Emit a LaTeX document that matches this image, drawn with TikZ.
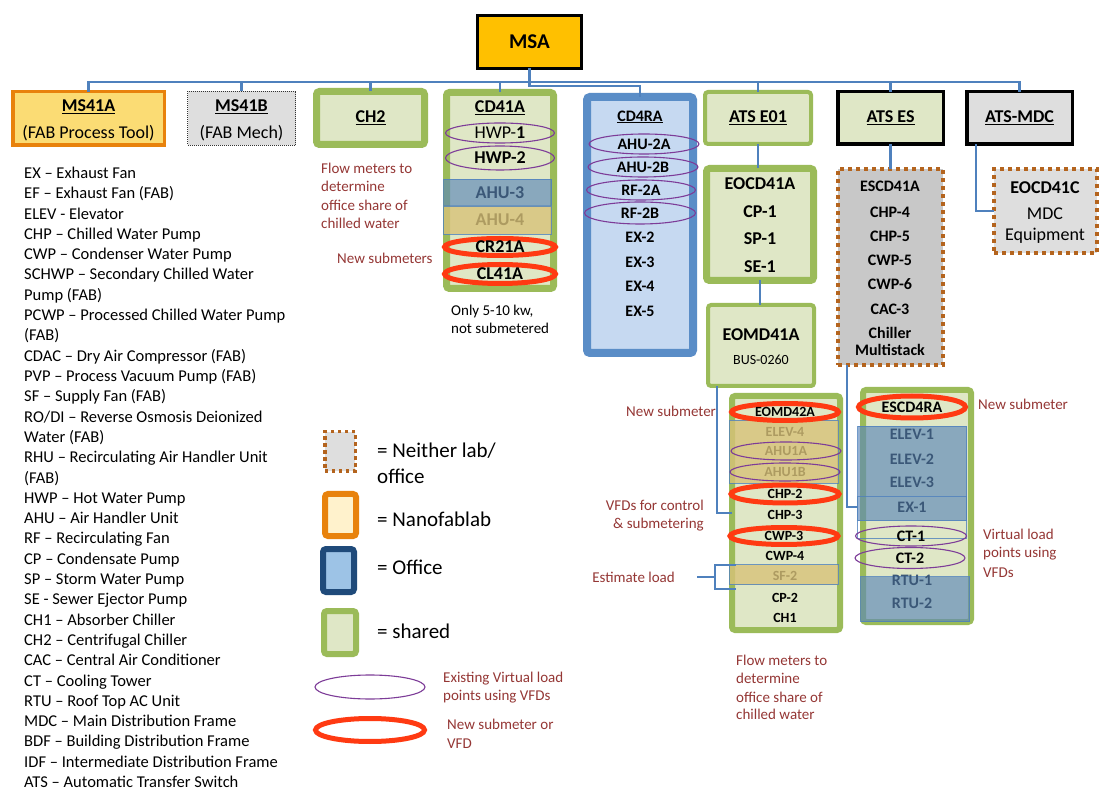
\documentclass[tikz,border=0pt]{standalone}
\usepackage{fontspec}
\setmainfont{Carlito}
\usetikzlibrary{shapes.geometric}
\definecolor{busblue}{HTML}{4F81BD}
\definecolor{gborder}{HTML}{9BBB59}
\definecolor{gfill}{HTML}{DFE7C6}
\definecolor{oborder}{HTML}{5A8DC7}
\definecolor{ofill}{HTML}{C6D9F1}
\definecolor{orng}{HTML}{E8820C}
\definecolor{msfill}{HTML}{FBDC74}
\definecolor{msagold}{HTML}{FFC000}
\definecolor{greyfill}{HTML}{DEDEDE}
\definecolor{greydark}{HTML}{C8C8C8}
\definecolor{dotbrown}{HTML}{B4641E}
\definecolor{dred}{HTML}{953735}
\definecolor{vpurple}{HTML}{7D3C98}
\definecolor{nred}{HTML}{FF3A12}
\definecolor{navy}{HTML}{1F4A7A}
\definecolor{lgoffice}{HTML}{9DC3E6}
\definecolor{lgnano}{HTML}{FFF2CC}
\definecolor{blueov}{HTML}{5B87B9}
\definecolor{bluetxt}{HTML}{3B5878}
\definecolor{tanov}{HTML}{D8C279}
\definecolor{tantxt}{HTML}{AD9B61}
\newcommand{\fsz}[1]{\fontsize{#1}{#1}\selectfont}
\begin{document}
\begin{tikzpicture}[x=1pt,y=-1pt,
  box/.style={inner sep=0pt, outer sep=0pt},
  gbox/.style={box, draw=gborder, fill=gfill, rounded corners=3pt, line width=#1},
  dotbox/.style={box, draw=dotbrown, line width=4pt, dash pattern=on 4pt off 4pt},
  blkbox/.style={box, draw=black, line width=3.5pt},
  ovblue/.style={box, fill=blueov, fill opacity=0.65, draw=busblue, draw opacity=0.8, line width=1pt},
  ovtan/.style={box, fill=tanov, fill opacity=0.8, draw=busblue, draw opacity=0.8, line width=1pt},
  lbl/.style={inner sep=0pt, font=\fsz{18}\bfseries},
  sub/.style={inner sep=0pt, font=\fsz{18}},
  mid/.style={inner sep=0pt, font=\fsz{16}\bfseries},
  sml/.style={inner sep=0pt, font=\fsz{14}\bfseries},
  note/.style={inner sep=0pt, anchor=base west, text=dred, font=\fsz{15}},
  noter/.style={inner sep=0pt, anchor=base east, text=dred, font=\fsz{15}},
  legtxt/.style={inner sep=0pt, anchor=base west, font=\fsz{21}},
  listtxt/.style={inner sep=0pt, anchor=base west, font=\fsz{16.5}},
  pell/.style={shape=ellipse, draw=vpurple, line width=1.1pt, inner sep=0pt},
  rell/.style={shape=ellipse, draw=nred, line width=5pt, inner sep=0pt},
  bus/.style={draw=busblue, line width=2.5pt}]
\useasboundingbox (0,0) rectangle (1101,791);
\fill[white] (0,0) rectangle (1101,791);

% ---------- top ----------
\node[box, draw=black, line width=3pt, fill=msagold, minimum width=104, minimum height=53, font=\fsz{21}\bfseries] (msa) at (529.5,42) {MSA};

\node[box, draw=orng, line width=3.5pt, fill=msfill, minimum width=151.5, minimum height=53.5] (ms41a) at (88.5,118.5) {};
\node[lbl] (ms41at) at (88.5,107) {\underline{MS41A}};
\node[sub] (ms41as) at (88.5,133) {(FAB Process Tool)};

\node[box, draw=black!80, line width=1pt, densely dotted, fill=greyfill, minimum width=108, minimum height=54] (ms41b) at (241.5,118.5) {};
\node[lbl] (ms41bt) at (241.5,107) {\underline{MS41B}};
\node[sub] (ms41bs) at (241.5,133) {(FAB Mech)};

\node[gbox=7pt, minimum width=108, minimum height=53, font=\fsz{18}\bfseries] (ch2) at (370.5,118) {\underline{CH2}};

% ---------- CD41A ----------
\node[gbox=7pt, minimum width=107, minimum height=196] (cd41a) at (500,190.5) {};
\node[lbl] (cd41at) at (500,108) {\underline{CD41A}};
\node[pell, minimum width=109, minimum height=20, font=\fsz{18}] (hwp1) at (500,133) {HWP-\textbf{1}};
\node[pell, minimum width=109, minimum height=24, font=\fsz{18}\bfseries] (hwp2) at (500,158) {HWP-2};
\node[ovblue, minimum width=108, minimum height=26] (ahu3) at (497.5,192.5) {};
\node[lbl, text=bluetxt] (ahu3t) at (500,192.5) {AHU-3};
\node[ovtan, minimum width=108, minimum height=28] (ahu4) at (497.5,220.5) {};
\node[lbl, text=tantxt] (ahu4t) at (500,220) {AHU-4};
\node[rell, minimum width=111, minimum height=17, font=\fsz{18}\bfseries] (cr21a) at (500,247) {CR21A};
\node[rell, minimum width=111, minimum height=19, font=\fsz{18}\bfseries] (cl41a) at (500,274) {CL41A};

% ---------- CD4RA ----------
\node[box, draw=oborder, fill=ofill, line width=8pt, rounded corners=3pt, minimum width=106, minimum height=256] (cd4ra) at (640,225) {};
\node[mid] (cd4rat) at (640,117) {\underline{CD4RA}};
\node[pell, minimum width=110, minimum height=20, font=\fsz{16}\bfseries] (ahu2a) at (644,144) {AHU-2A};
\node[pell, minimum width=110, minimum height=20, font=\fsz{16}\bfseries] (ahu2b) at (643,167) {AHU-2B};
\node[pell, minimum width=109, minimum height=20, font=\fsz{16}\bfseries] (rf2a) at (641,190) {RF-2A};
\node[pell, minimum width=111, minimum height=22, font=\fsz{16}\bfseries] (rf2b) at (640,213) {RF-2B};
\node[mid] (ex2) at (640,237) {EX-2};
\node[mid] (ex3) at (640,262) {EX-3};
\node[mid] (ex4) at (640,286) {EX-4};
\node[mid] (ex5) at (640,311) {EX-5};

% ---------- ATS row ----------
\node[gbox=4pt, minimum width=106, minimum height=52, font=\fsz{18}\bfseries] (atse01) at (758,118) {\underline{ATS E01}};
\node[blkbox, fill=gfill, minimum width=105.5, minimum height=52.5, font=\fsz{18}\bfseries] (atses) at (890.5,118) {\underline{ATS ES}};
\node[blkbox, fill=greyfill, minimum width=105.5, minimum height=52.5, font=\fsz{18}\bfseries] (atsmdc) at (1019.5,118) {\underline{ATS-MDC}};

% ---------- EOCD41A / EOMD41A ----------
\node[gbox=7pt, minimum width=107, minimum height=112] (eocd41a) at (760,224.5) {};
\node[lbl] (eocd41at) at (760,184) {EOCD41A};
\node[lbl] (cp1) at (760,212) {CP-1};
\node[lbl] (sp1) at (760,239) {SP-1};
\node[lbl] (se1) at (760,267) {SE-1};

\node[gbox=4pt, minimum width=106, minimum height=81] (eomd41a) at (761,345.5) {};
\node[lbl] (eomd41at) at (761,335) {EOMD41A};
\node[inner sep=0pt, font=\fsz{14}] (bus0260) at (761,360) {BUS-0260};

% ---------- ESCD41A ----------
\node[dotbox, fill=greydark, minimum width=105, minimum height=196] (escd41a) at (890.5,267) {};
\node[mid] (escd41at) at (890,186) {ESCD41A};
\node[mid] (chp4) at (890,212) {CHP-4};
\node[mid] (chp5) at (890,236) {CHP-5};
\node[mid] (cwp5) at (890,260) {CWP-5};
\node[mid] (cwp6) at (890,284) {CWP-6};
\node[mid] (cac3) at (890,309) {CAC-3};
\node[mid] (chiller) at (890,333) {Chiller};
\node[mid] (multistack) at (890,350) {Multistack};

% ---------- EOCD41C ----------
\node[dotbox, fill=greyfill, minimum width=103, minimum height=84] (eocd41c) at (1045.5,211) {};
\node[lbl] (eocd41ct) at (1045,188) {EOCD41C};
\node[sub] (mdc) at (1045,214) {MDC};
\node[sub] (equip) at (1045,236) {Equipment};

% ---------- EOMD42A ----------
\node[gbox=6pt, minimum width=108, minimum height=234] (eomd42a) at (786,513) {};
\node[ovtan, minimum width=109, minimum height=63] (tan1) at (784,452) {};
\node[sml, text=tantxt] (elev4) at (785,432) {ELEV-4};
\node[pell, minimum width=110, minimum height=18, font=\fsz{14}\bfseries, text=tantxt] (ahu1a) at (786,451) {AHU1A};
\node[pell, minimum width=110, minimum height=18, font=\fsz{14}\bfseries, text=tantxt] (ahu1b) at (785,472) {AHU1B};
\node[rell, minimum width=107, minimum height=17, font=\fsz{14}\bfseries] (eomd42at) at (785,412) {EOMD42A};
\node[rell, minimum width=108, minimum height=18, font=\fsz{14}\bfseries] (chp2) at (785,494) {CHP-2};
\node[sml] (chp3) at (785,515) {CHP-3};
\node[rell, minimum width=108, minimum height=17, font=\fsz{14}\bfseries] (cwp3) at (784,536) {CWP-3};
\node[sml] (cwp4) at (785,556) {CWP-4};
\node[ovtan, minimum width=109, minimum height=20] (sf2) at (784,574.5) {};
\node[sml, text=tantxt] (sf2t) at (785,576) {SF-2};
\node[sml] (cp2) at (785,598) {CP-2};
\node[sml] (ch1) at (785,618) {CH1};

% ---------- ESCD4RA ----------
\node[gbox=6pt, minimum width=108, minimum height=232] (escd4ra) at (917,506) {};
\node[ovblue, minimum width=109, minimum height=94] (elevov) at (912,473.5) {};
\node[box, draw=busblue, draw opacity=0.8, line width=1pt, minimum width=109, minimum height=42] (ex1ov) at (912,517.5) {};
\node[mid, text=bluetxt] (elev1) at (912,434) {ELEV-1};
\node[mid, text=bluetxt] (elev2) at (912,459) {ELEV-2};
\node[mid, text=bluetxt] (elev3) at (912,482) {ELEV-3};
\node[mid, text=bluetxt] (ex1) at (912,507) {EX-1};
\node[rell, minimum width=107, minimum height=22, font=\fsz{16}\bfseries] (escd4rat) at (912,407) {ESCD4RA};
\node[pell, minimum width=111, minimum height=20, font=\fsz{16}\bfseries] (ct1) at (911,536) {CT-1};
\node[pell, minimum width=110, minimum height=21, font=\fsz{16}\bfseries] (ct2) at (910,558) {CT-2};
\node[ovblue, minimum width=109, minimum height=45] (rtuov) at (915,599) {};
\node[mid, text=bluetxt] (rtu1) at (912,580) {RTU-1};
\node[mid, text=bluetxt] (rtu2) at (912,603) {RTU-2};

% ---------- connectors ----------
\coordinate (busy) at (529.5,82);
\draw[bus] (msa.south) -- (busy) -| (ms41a.north);
\draw[bus] (busy) -| (ms41b.north);
\draw[bus] (busy) -| (ch2.north);
\draw[bus] (busy) -| (cd41a.north);
\draw[bus] (busy) -| (atse01.north);
\draw[bus] (busy) -| (atses.north);
\draw[bus] (busy) -| (atsmdc.north);
\draw[bus] (busy) -- ++(0,4) -| (cd4ra.north);
\draw[bus] (atse01.south) -- (atse01.south |- eocd41a.north);
\draw[bus] (eocd41a.south) -- (eocd41a.south |- eomd41a.north);
\draw[bus] (atses.south) -- (atses.south |- escd41a.north);
\draw[bus] ([xshift=-43.5pt]atsmdc.south) |- (eocd41c.west);
\draw[bus] ([xshift=-44pt]eomd41a.south) |- (eomd42a.west |- 0,513);
\draw[bus] ([xshift=-43.5pt]escd41a.south) |- (elevov.west |- ex1);

% ---------- notes ----------
\node[note] (fm1) at (321,174) {Flow meters to};
\node[note] (fm2) at (321,192) {determine};
\node[note] (fm3) at (321,211) {office share of};
\node[note] (fm4) at (321,229) {chilled water};
\node[note] (newsubs) at (337,264) {New submeters};
\node[note, text=black] (only1) at (451,316) {Only 5-10 kw,};
\node[note, text=black] (only2) at (451,334) {not submetered};
\node[note] (newsub1) at (626,417) {New submeter};
\node[noter] (vfd1) at (704,511) {VFDs for control};
\node[noter] (vfd2) at (704,529) {\& submetering};
\node[noter] (est) at (675,582) {Estimate load};
\coordinate (bkt) at (715,577);
\draw[bus, line width=2pt] ([xshift=22pt]est.east |- bkt) -- (bkt);
\draw[bus, line width=2pt] ([xshift=6pt]sf2.north west) -| (bkt) |- ([xshift=6pt,yshift=-4pt]sf2.south west);
\node[note] (fmb1) at (736,665) {Flow meters to};
\node[note] (fmb2) at (736,683) {determine};
\node[note] (fmb3) at (736,702) {office share of};
\node[note] (fmb4) at (736,719) {chilled water};
\node[note] (newsub2) at (978,410) {New submeter};
\node[note] (vl1) at (983,539) {Virtual load};
\node[note] (vl2) at (983,558) {points using};
\node[note] (vl3) at (983,577) {VFDs};

% ---------- legend ----------
\node[box, draw=dotbrown, line width=3.5pt, dash pattern=on 3.5pt off 3.5pt, fill=greyfill, minimum width=30.5, minimum height=39.5] (lgn) at (340,451.5) {};
\node[box, draw=orng, fill=lgnano, line width=6pt, rounded corners=3pt, minimum width=31, minimum height=42] (lgnano) at (340.5,515) {};
\node[box, draw=navy, fill=lgoffice, line width=6pt, rounded corners=3pt, minimum width=31, minimum height=43] (lgoff) at (338.5,570.5) {};
\node[gbox=6pt, minimum width=32, minimum height=43] (lgsh) at (340,632.5) {};
\node[pell, minimum width=110, minimum height=24] (lgpe) at (370,687) {};
\node[rell, minimum width=109, minimum height=23] (lgre) at (370,730) {};
\node[legtxt] (lt1) at (377,458) {= Neither lab/};
\node[legtxt] (lt2) at (377,483) {office};
\node[legtxt] (lt3) at (377,526) {= Nanofablab};
\node[legtxt] (lt4) at (377,574) {= Office};
\node[legtxt] (lt5) at (377,638) {= shared};
\node[note] (lp1) at (443,682) {Existing Virtual load};
\node[note] (lp2) at (443,700) {points using VFDs};
\node[note] (lr1) at (447,729) {New submeter or};
\node[note] (lr2) at (447,748) {VFD};

% ---------- abbreviation list ----------
\foreach \t [count=\i from 0] in {EX – Exhaust Fan, EF – Exhaust Fan (FAB), ELEV - Elevator, CHP – Chilled Water Pump, CWP – Condenser Water Pump, SCHWP – Secondary Chilled Water, Pump (FAB), PCWP – Processed Chilled Water Pump, (FAB), CDAC – Dry Air Compressor (FAB), PVP – Process Vacuum Pump (FAB), SF – Supply Fan (FAB), RO/DI – Reverse Osmosis Deionized, Water (FAB), RHU – Recirculating Air Handler Unit, (FAB), HWP – Hot Water Pump, AHU – Air Handler Unit, RF – Recirculating Fan, CP – Condensate Pump, SP – Storm Water Pump, SE - Sewer Ejector Pump, CH1 – Absorber Chiller, CH2 – Centrifugal Chiller, CAC – Central Air Conditioner, CT – Cooling Tower, RTU – Roof Top AC Unit, MDC – Main Distribution Frame, BDF – Building Distribution Frame, IDF – Intermediate Distribution Frame, ATS – Automatic Transfer Switch}
  \node[listtxt] (li\i) at (24,{178.5+\i*20.3}) {\t};
\end{tikzpicture}
\end{document}
